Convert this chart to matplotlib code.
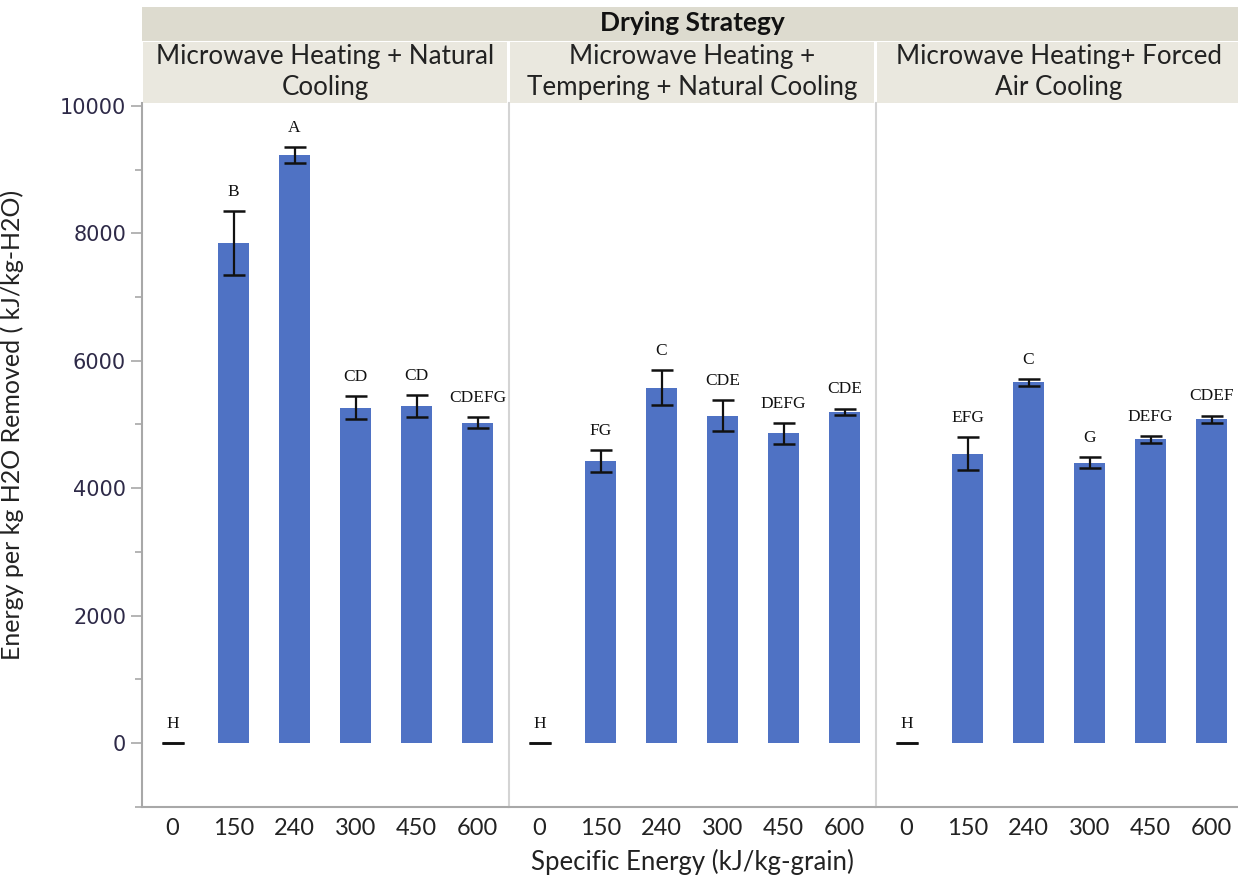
import matplotlib
matplotlib.use("Agg")
import matplotlib.pyplot as plt
from matplotlib.patches import Rectangle
from matplotlib.ticker import MultipleLocator

categories = ["0", "150", "240", "300", "450", "600"]
strategies = ["Microwave Heating + Natural\nCooling",
              "Microwave Heating +\nTempering + Natural Cooling",
              "Microwave Heating+ Forced\nAir Cooling"]
means = [
    [0, 7850, 9230, 5260, 5290, 5030],
    [0, 4430, 5580, 5140, 4860, 5200],
    [0, 4540, 5665, 4400, 4765, 5085],
]
errors = [
    [0, 500, 120, 180, 170, 85],
    [0, 170, 280, 240, 160, 50],
    [0, 260, 55, 85, 50, 55],
]
letters = [
    ["H", "B", "A", "CD", "CD", "CDEFG"],
    ["H", "FG", "C", "CDE", "DEFG", "CDE"],
    ["H", "EFG", "C", "G", "DEFG", "CDEF"],
]

W, H = 1238, 882
fig = plt.figure(figsize=(W / 100, H / 100), dpi=100)

narrow = ["Lato", "DejaVu Sans"]
serif = ["Liberation Serif", "DejaVu Serif"]

def fx(px):
    return px / W

def fy(py):
    return 1 - py / H

panel_left = [142, 509, 876]
panel_w = 366
top_px, bot_px = 103, 807

bar_color = "#4F72C4"
axes = []
for i in range(3):
    ax = fig.add_axes([fx(panel_left[i]), fy(bot_px), fx(panel_w), (bot_px - top_px) / H])
    axes.append(ax)
    x = list(range(len(categories)))
    ax.bar(x[1:], means[i][1:], width=0.52, color=bar_color, zorder=2)
    ax.errorbar(x, means[i], yerr=errors[i], fmt="none", ecolor="#111111",
                elinewidth=1.6, capsize=8, capthick=1.8, zorder=3)
    for xi, m, e, lab in zip(x, means[i], errors[i], letters[i]):
        ax.annotate(lab, (xi, m + e), xytext=(0, 8), textcoords="offset points",
                    ha="center", va="bottom", fontsize=12.5, family=serif, color="#111111")
    ax.set_xlim(-0.5, 5.5)
    ax.set_ylim(-1005, 10047)
    ax.set_xticks(x)
    ax.set_xticklabels(categories, family=narrow, fontsize=17, color="#222222")
    ax.tick_params(axis="x", length=0, pad=8)
    for s in ["top", "right"]:
        ax.spines[s].set_visible(False)
    ax.spines["bottom"].set_color("#A8A8A8")
    ax.spines["bottom"].set_linewidth(1.5)
    if i == 0:
        ax.spines["left"].set_color("#A8A8A8")
        ax.spines["left"].set_linewidth(1.5)
        ax.yaxis.set_major_locator(MultipleLocator(2000))
        ax.yaxis.set_minor_locator(MultipleLocator(1000))
        ax.set_yticks([0, 2000, 4000, 6000, 8000, 10000])
        ax.tick_params(axis="y", which="major", length=8, color="#A8A8A8", labelsize=15,
                       labelcolor="#2E2A48", width=1.2)
        ax.tick_params(axis="y", which="minor", length=5, color="#A8A8A8", width=1.2)
    else:
        ax.spines["left"].set_color("#D4D4D4")
        ax.spines["left"].set_linewidth(1.5)
        ax.set_yticks([])
        ax.yaxis.set_minor_locator(plt.NullLocator())

axes[0].set_ylabel("Energy per kg H2O Removed ( kJ/kg-H2O)", family=narrow, fontsize=18,
                   color="#222222")
axes[0].yaxis.set_label_coords((24 - 142) / panel_w, (807 - 425) / 704)

# Headers
fig.patches.append(Rectangle((fx(142), fy(41)), fx(1238 - 142), (41 - 7) / H,
                             transform=fig.transFigure, facecolor="#DDDBCF",
                             edgecolor="none", zorder=0))
fig.text(fx(692), fy(23), "Drying Strategy", ha="center", va="center",
         family=narrow, fontsize=19, fontweight="bold", color="#111111")
for i in range(3):
    fig.patches.append(Rectangle((fx(panel_left[i] + 1), fy(103)), fx(panel_w - 2),
                                 (103 - 42) / H, transform=fig.transFigure,
                                 facecolor="#EAE8DF", edgecolor="none", zorder=0))
    fig.text(fx(panel_left[i] + panel_w / 2), fy(72), strategies[i], ha="center",
             va="center", family=narrow, fontsize=18.7, color="#222222", linespacing=1.3)

fig.text(fx(692), fy(862), "Specific Energy (kJ/kg-grain)", ha="center", va="center",
         family=narrow, fontsize=18.5, color="#222222")

fig.savefig("out.png", dpi=100)
